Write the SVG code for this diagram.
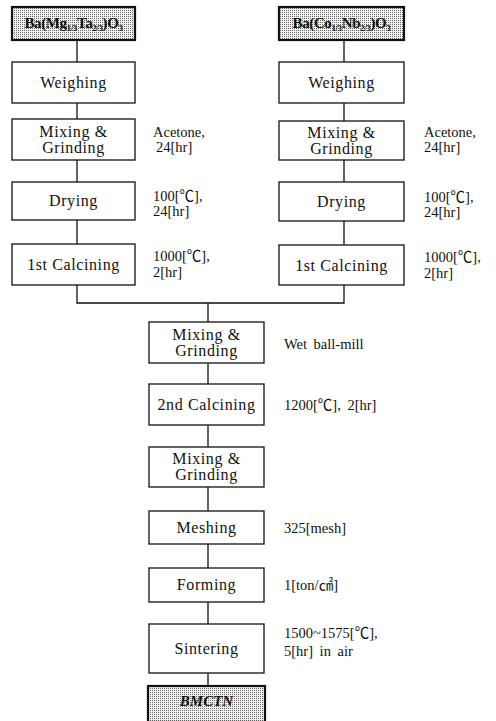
<svg xmlns="http://www.w3.org/2000/svg" width="496" height="721" viewBox="0 0 496 721">
<style>
.box{fill:#fff;stroke:#111;stroke-width:1.3}
.src{fill:url(#dots);stroke:#111;stroke-width:2.2}
.lbl{font-family:"Liberation Serif","Noto Sans CJK KR",serif;font-size:16px;letter-spacing:0.6px;fill:#111;text-anchor:middle}
.ann{font-family:"Liberation Serif","Noto Sans CJK KR",serif;font-size:14.5px;fill:#111}
.chem{font-family:"Liberation Serif",serif;font-size:15px;font-weight:bold;fill:#111;text-anchor:middle;letter-spacing:-0.4px}
.sub{font-size:9px}
.conn{fill:none;stroke:#111;stroke-width:1.3}
</style>
<defs>
<pattern id="dots" width="2" height="2" patternUnits="userSpaceOnUse">
<rect width="2" height="2" fill="#f2f2f2"/>
<rect x="0" y="0" width="1" height="1" fill="#6a6a6a"/>
</pattern>
</defs>

<g id="connectors">
<line class="conn" x1="77" y1="40" x2="77" y2="62"/>
<line class="conn" x1="77" y1="103" x2="77" y2="119"/>
<line class="conn" x1="77" y1="160" x2="77" y2="182"/>
<line class="conn" x1="77" y1="220" x2="77" y2="244"/>
<line class="conn" x1="344" y1="40" x2="344" y2="62"/>
<line class="conn" x1="344" y1="103" x2="344" y2="121"/>
<line class="conn" x1="344" y1="160" x2="344" y2="182"/>
<line class="conn" x1="344" y1="221" x2="344" y2="245"/>
<polyline class="conn" points="77,285 77,303 344,303 344,285"/>
<line class="conn" x1="208" y1="303" x2="208" y2="322"/>
<line class="conn" x1="208" y1="363" x2="208" y2="384"/>
<line class="conn" x1="208" y1="425" x2="208" y2="447"/>
<line class="conn" x1="208" y1="487" x2="208" y2="511"/>
<line class="conn" x1="208" y1="544" x2="208" y2="568"/>
<line class="conn" x1="208" y1="602" x2="208" y2="624"/>
<line class="conn" x1="208" y1="673" x2="208" y2="686"/>
</g>

<g id="src-bmt">
<rect class="src" x="12" y="7" width="123" height="33"/>
<text class="chem" x="73.5" y="28">Ba(Mg<tspan class="sub" dy="3">1/3</tspan><tspan dy="-3">Ta</tspan><tspan class="sub" dy="3">2/3</tspan><tspan dy="-3">)O</tspan><tspan class="sub" dy="3">3</tspan></text>
</g>
<g id="src-bcn">
<rect class="src" x="279" y="7" width="125" height="33"/>
<text class="chem" x="341.5" y="28">Ba(Co<tspan class="sub" dy="3">1/3</tspan><tspan dy="-3">Nb</tspan><tspan class="sub" dy="3">2/3</tspan><tspan dy="-3">)O</tspan><tspan class="sub" dy="3">3</tspan></text>
</g>

<g id="l-weigh"><rect class="box" x="12" y="62" width="123" height="41"/><text class="lbl" x="73.5" y="88">Weighing</text></g>
<g id="l-mix"><rect class="box" x="12" y="119" width="123" height="41"/><text class="lbl" x="73.5" y="137">Mixing &amp;</text><text class="lbl" x="73.5" y="153">Grinding</text></g>
<g id="l-dry"><rect class="box" x="12" y="182" width="123" height="38"/><text class="lbl" x="73.5" y="206">Drying</text></g>
<g id="l-calc"><rect class="box" x="12" y="244" width="123" height="41"/><text class="lbl" x="73.5" y="270">1st Calcining</text></g>

<g id="r-weigh"><rect class="box" x="279" y="62" width="125" height="41"/><text class="lbl" x="341.5" y="88">Weighing</text></g>
<g id="r-mix"><rect class="box" x="279" y="121" width="125" height="39"/><text class="lbl" x="341.5" y="138">Mixing &amp;</text><text class="lbl" x="341.5" y="154">Grinding</text></g>
<g id="r-dry"><rect class="box" x="279" y="182" width="125" height="39"/><text class="lbl" x="341.5" y="207">Drying</text></g>
<g id="r-calc"><rect class="box" x="279" y="245" width="125" height="40"/><text class="lbl" x="341.5" y="271">1st Calcining</text></g>

<g id="m-mix1"><rect class="box" x="149" y="322" width="115" height="41"/><text class="lbl" x="206.5" y="340">Mixing &amp;</text><text class="lbl" x="206.5" y="356">Grinding</text></g>
<g id="m-calc2"><rect class="box" x="149" y="384" width="115" height="41"/><text class="lbl" x="206.5" y="410">2nd Calcining</text></g>
<g id="m-mix2"><rect class="box" x="149" y="447" width="115" height="40"/><text class="lbl" x="206.5" y="464">Mixing &amp;</text><text class="lbl" x="206.5" y="480">Grinding</text></g>
<g id="m-mesh"><rect class="box" x="149" y="511" width="115" height="33"/><text class="lbl" x="206.5" y="533">Meshing</text></g>
<g id="m-form"><rect class="box" x="149" y="568" width="115" height="34"/><text class="lbl" x="206.5" y="590">Forming</text></g>
<g id="m-sinter"><rect class="box" x="149" y="624" width="115" height="49"/><text class="lbl" x="206.5" y="654">Sintering</text></g>
<g id="m-bmctn"><rect class="src" x="148" y="686" width="117" height="36" stroke-width="2.8"/><text x="206.5" y="706" font-family="Liberation Serif, serif" font-size="15" font-weight="bold" font-style="italic" text-anchor="middle" fill="#111">BMCTN</text></g>

<g id="annotations">
<text class="ann" x="153" y="137">Acetone,</text>
<text class="ann" x="156" y="152">24[hr]</text>
<text class="ann" x="153" y="201">100[℃],</text>
<text class="ann" x="153" y="216">24[hr]</text>
<text class="ann" x="153" y="261">1000[℃],</text>
<text class="ann" x="153" y="277">2[hr]</text>
<text class="ann" x="424" y="137">Acetone,</text>
<text class="ann" x="424" y="152">24[hr]</text>
<text class="ann" x="424" y="202">100[℃],</text>
<text class="ann" x="424" y="217">24[hr]</text>
<text class="ann" x="424" y="262">1000[℃],</text>
<text class="ann" x="424" y="278">2[hr]</text>
<text class="ann" x="284" y="349" word-spacing="3">Wet ball-mill</text>
<text class="ann" x="284" y="410" word-spacing="3">1200[℃], 2[hr]</text>
<text class="ann" x="284" y="533">325[mesh]</text>
<text class="ann" x="284" y="590">1[ton/㎠]</text>
<text class="ann" x="284" y="638">1500~1575[℃],</text>
<text class="ann" x="284" y="656" word-spacing="3">5[hr] in air</text>
</g>
</svg>
